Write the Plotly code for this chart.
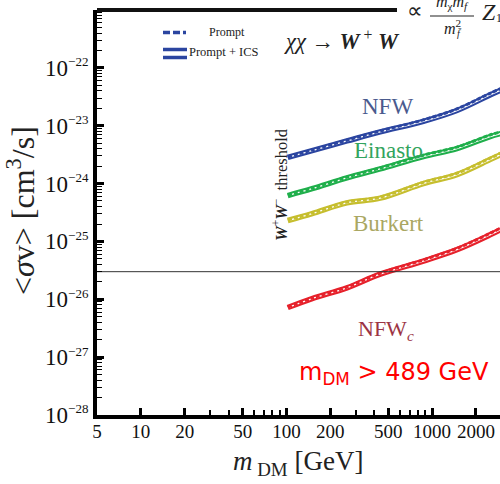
import plotly.graph_objects as go
import math

# ---------------- data ----------------
mass = [102, 150, 260, 440, 870, 1480, 2500, 2950]  # GeV

nfw_prompt     = [2.88e-24, 3.80e-24, 5.62e-24, 8.10e-24, 1.26e-23, 1.95e-23, 3.63e-23, 4.37e-23]
nfw_ics        = [2.84e-24, 3.72e-24, 5.45e-24, 7.80e-24, 1.19e-23, 1.83e-23, 3.40e-23, 4.10e-23]
einasto_prompt = [6.30e-25, 8.30e-25, 1.29e-24, 1.86e-24, 3.09e-24, 4.27e-24, 6.92e-24, 7.76e-24]
einasto_ics    = [6.20e-25, 8.15e-25, 1.25e-24, 1.79e-24, 2.93e-24, 4.02e-24, 6.50e-24, 7.30e-24]
burkert_prompt = [2.34e-25, 3.09e-25, 4.79e-25, 5.82e-25, 1.05e-24, 1.51e-24, 2.75e-24, 3.35e-24]
burkert_ics    = [2.30e-25, 3.03e-25, 4.65e-25, 5.60e-25, 1.00e-24, 1.43e-24, 2.60e-24, 3.15e-24]
nfwc_prompt    = [7.33e-27, 1.05e-26, 1.62e-26, 2.82e-26, 4.79e-26, 7.59e-26, 1.38e-25, 1.70e-25]
nfwc_ics       = [7.20e-27, 1.03e-26, 1.58e-26, 2.72e-26, 4.58e-26, 7.20e-26, 1.30e-25, 1.60e-25]

thermal_xs = 3e-26
thermal_mass = [5, 3000]

x_tickvals = [5, 10, 20, 50, 100, 200, 500, 1000, 2000]
x_ticktext = ["5", "10", "20", "50", "100", "200", "500", "1000", "2000"]
x_minor = [30, 40, 60, 70, 80, 90, 300, 400, 600, 700, 800, 900, 3000]
y_exps = [-28, -27, -26, -25, -24, -23, -22]

profiles = [
    ("NFW", nfw_prompt, nfw_ics, "#2b45a0"),
    ("Einasto", einasto_prompt, einasto_ics, "#1faf4b"),
    ("Burkert", burkert_prompt, burkert_ics, "#c6be2e"),
    ("NFWc", nfwc_prompt, nfwc_ics, "#e6212b"),
]

# ---------------- figure ----------------
W, H = 500, 484
L, R, T, B = 97, 0, 10, 69
PW, PH = W - L - R, H - T - B

def px(x):
    return (x - L) / PW

def py(y):
    return (H - B - y) / PH

SERIF = "Liberation Serif"
fig = go.Figure()

for name, prompt, ics, col in profiles:
    # Prompt + ICS: double line
    fig.add_trace(go.Scatter(x=mass, y=ics, mode="lines", line=dict(color=col, width=5.5, shape="spline", smoothing=1.0),
                             showlegend=False, hoverinfo="skip"))
    fig.add_trace(go.Scatter(x=mass, y=ics, mode="lines", line=dict(color="white", width=1.3, shape="spline", smoothing=1.0),
                             showlegend=False, hoverinfo="skip"))
    # Prompt: dashed line
    fig.add_trace(go.Scatter(x=mass, y=prompt, mode="lines",
                             line=dict(color=col, width=3, dash="4px,2px", shape="spline", smoothing=1.0),
                             showlegend=False, hoverinfo="skip"))

fig.add_trace(go.Scatter(x=thermal_mass, y=[thermal_xs, thermal_xs], mode="lines",
                         line=dict(color="#333333", width=1), showlegend=False, hoverinfo="skip"))

y_minor = [k * 10.0 ** e for e in range(-28, -21) for k in range(2, 10)]

fig.update_xaxes(type="log", range=[math.log10(5), math.log10(5) + (500 - 96) / 146.0],
                 tickmode="array", tickvals=x_tickvals, ticktext=x_ticktext,
                 ticks="inside", ticklen=7, tickwidth=3, tickcolor="black", ticklabelstandoff=-4,
                 showline=True, linewidth=4, linecolor="black", showgrid=False, zeroline=False,
                 tickfont=dict(family=SERIF, size=19, color="#111"),
                 minor=dict(tickmode="array", tickvals=x_minor, ticks="inside", ticklen=5,
                            tickwidth=1.5, tickcolor="black", showgrid=False))
fig.update_yaxes(type="log", range=[-28, -21],
                 tickmode="array", tickvals=[10.0 ** e for e in y_exps],
                 ticktext=["10<sup><span style='font-size:13px'>\u2212%d</span></sup>" % (-e) for e in y_exps],
                 ticks="inside", ticklen=7, tickwidth=2.5, tickcolor="black",
                 showline=True, linewidth=4, linecolor="black", showgrid=False, zeroline=False,
                 tickfont=dict(family=SERIF, size=23, color="#111"),
                 minor=dict(tickmode="array", tickvals=y_minor, ticks="inside", ticklen=5,
                            tickwidth=1.2, tickcolor="black", showgrid=False))

shapes = []
# top border
shapes.append(dict(type="line", xref="paper", yref="paper", x0=0, x1=px(397), y0=py(10), y1=py(10),
                   line=dict(color="#111", width=4)))
# legend samples
blue = "#2b45a0"
shapes.append(dict(type="line", xref="paper", yref="paper", x0=px(163), x1=px(186), y0=py(32.5), y1=py(32.5),
                   line=dict(color=blue, width=3.5, dash="7px,3px")))
for yy in (49.5, 57.5):
    shapes.append(dict(type="line", xref="paper", yref="paper", x0=px(163), x1=px(187), y0=py(yy), y1=py(yy),
                       line=dict(color=blue, width=3.5)))
# fraction bar of formula
shapes.append(dict(type="line", xref="paper", yref="paper", x0=px(430), x1=px(474), y0=py(16), y1=py(16),
                   line=dict(color="#222", width=1.2)))
fig.update_layout(shapes=shapes)

def ann(x, y, text, size, color="#222", family=SERIF, angle=0, xanchor="center"):
    fig.add_annotation(xref="paper", yref="paper", x=px(x), y=py(y), text=text, showarrow=False,
                       font=dict(family=family, size=size, color=color), textangle=angle,
                       xanchor=xanchor, yanchor="middle")

ann(207, 32, "Prompt", 12, xanchor="left")
ann(187, 52, "Prompt + ICS", 12.5, xanchor="left")
ann(282, 40, "<i>\u03c7\u03c7</i> \u2192 <b><i>W</i></b><sup> +</sup> <b><i>W</i></b>", 22.5, xanchor="left")

ann(387, 107, "NFW", 23, color="#4a5a8e")
ann(388, 150, "Einasto", 23, color="#32a45e")
ann(388, 223, "Burkert", 23, color="#aaa762")
ann(386, 330, "NFW<sub><i>c</i></sub>", 22, color="#9c3444")
ann(394, 373, "m<sub>DM</sub> &gt; 489 GeV", 24, color="#ff0000", family="DejaVu Sans")

ann(280, 185, "<b><i>W</i></b><sup>+</sup><b><i>W</i></b><sup>\u2212</sup>  threshold", 16.5, angle=-90)

# formula in top-right corner
ann(415, 11, "\u221d", 22)
ann(452, 2, "<i>m</i><sub>\u03c7</sub><i>m</i><sub><i>f</i></sub>", 16)
ann(452, 27, "<i>m</i><sup>2</sup>", 16)
ann(459, 33, "<i>f\u0304</i>", 10)
ann(489, 12, "<i>Z</i>", 24)
ann(499, 18, "1", 12)

# axis titles
ann(298, 463, "<i>m</i><sub> DM</sub> [GeV]", 27)
ann(21, 211, "&lt;<i>\u03c3</i>v&gt; [cm<sup>3</sup>/s]", 32, angle=-90)

fig.update_layout(width=W, height=H, margin=dict(l=L, r=R, t=T, b=B),
                  paper_bgcolor="white", plot_bgcolor="white", showlegend=False)

fig.write_html("out.html")
